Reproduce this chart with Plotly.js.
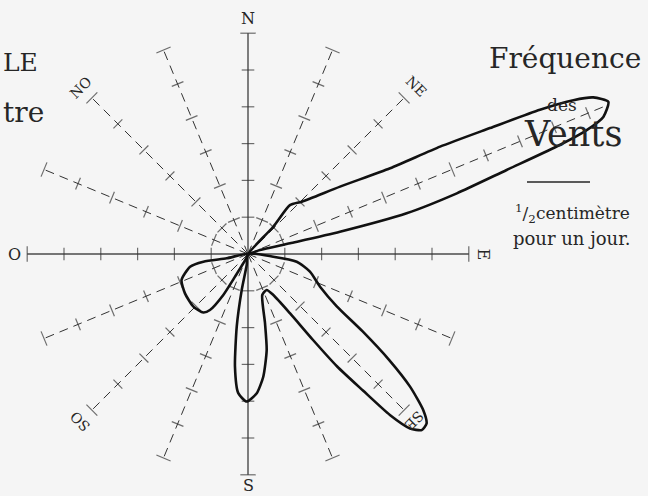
<!DOCTYPE html>
<html><head><meta charset="utf-8">
<script src="https://cdn.plot.ly/plotly-3.0.1.min.js"></script>
<style>html,body{margin:0;padding:0;background:#f5f5f5}</style>
</head><body><div id="chart" style="width:648px;height:496px"></div>
<script>
// 16 wind directions (French compass), bearing in degrees clockwise from north
const directions = ['N','NNE','NE','ENE','E','ESE','SE','SSE','S','SSO','SO','OSO','O','ONO','NO','NNO'];
const bearings   = [0,22.5,45,67.5,90,112.5,135,157.5,180,202.5,225,247.5,270,292.5,315,337.5];
// spoke lengths in scale units (ENE spoke runs through its long lobe)
const spokeLength = [6,6,6,10.6,6,6,6,6,6,6,6,6,6,6,6,6];
// labelled directions
const labelNames    = ['N','NE','E','SE','S','SO','O','NO'];
const labelBearings = [0,45,90,135,180,225,270,315];
const labelRadius   = [6.4,6.45,6.4,6.4,6.3,6.45,6.35,6.4];

// Lobe outlines: bearing (deg) and radius (scale units)
const eneBearing = [40,42.8,40.6,45.8,53.8,58.9,60.8,62.5,63.7,64.7,65.6,67.1,68.9,69.9,70.8,72.0,73.8,75.6,76.4,75.7,71.6,70];
const eneRadius  = [0,1.01,1.75,2.04,3.10,4.51,5.98,7.41,8.85,9.78,10.30,10.63,10.35,9.80,8.88,7.39,5.91,4.45,2.57,1.18,0.34,0];
const seSBearing = [95,96.1,99.0,105.9,114.4,120.5,124.0,126.9,129.3,131.7,133.5,135.4,137.1,138.6,139.9,141.6,142.9,144.7,148.3,152.6,160.8,166.2,169.0,172.9,176.4,180.5,184.0,186.6,188.8,189.9,186.7,185];
const seSRadius  = [0,0.69,1.34,1.75,2.15,2.80,3.75,4.80,5.69,6.38,6.69,6.72,6.47,5.83,4.85,3.90,2.93,1.97,1.31,1.10,1.18,1.94,2.66,3.36,3.79,4.01,3.79,3.08,2.0,0.99,0.30,0];
const swBearing  = [205,206.8,209.8,211.1,214.2,217.3,226.1,238.0,248.6,257.6,260.2,258.6,260];
const swRadius   = [0,0.28,0.71,1.30,1.84,2.0,2.06,2.02,1.94,1.61,1.23,0.59,0];

const rad = d => d*Math.PI/180;
const toX = (b,r) => r*Math.sin(rad(b));
const toY = (b,r) => r*Math.cos(rad(b));

const traces = [];
const ink = '#262626';

// spokes
const dashX=[],dashY=[],solX=[],solY=[];
directions.forEach((d,i)=>{
  const b=bearings[i], L=spokeLength[i];
  const solid = (b%90===0);
  const X = solid?solX:dashX, Y = solid?solY:dashY;
  X.push(0,toX(b,L),null); Y.push(0,toY(b,L),null);
});
traces.push({x:dashX,y:dashY,mode:'lines',line:{color:'#333',width:1,dash:'9px,6px'},hoverinfo:'skip'});
traces.push({x:solX,y:solY,mode:'lines',line:{color:'#4a4a4a',width:1.4},hoverinfo:'skip'});

// tick marks on the spokes
const tx=[],ty=[],ta=[],ts=[];
directions.forEach((d,i)=>{
  const b=bearings[i];
  for(let k=1;k<=Math.floor(spokeLength[i]);k++){
    tx.push(toX(b,k)); ty.push(toY(b,k)); ta.push(b); ts.push(k===6?11:9);
  }
});
traces.push({x:tx,y:ty,mode:'markers',marker:{symbol:'line-ew',size:ts,angle:ta,line:{color:'#333',width:1.2}},hoverinfo:'skip'});

// lobes
[[eneBearing,eneRadius],[seSBearing,seSRadius],[swBearing,swRadius]].forEach(([B,R])=>{
  traces.push({x:B.map((b,i)=>toX(b,R[i])),y:B.map((b,i)=>toY(b,R[i])),mode:'lines',
    line:{color:'#111',width:2.6,shape:'spline',smoothing:0.6},hoverinfo:'skip'});
});

const W=648,H=496,cx=248,cy=254,s=36.8;
const serif='DejaVu Serif';
const ann=[];
labelNames.forEach((n,i)=>{
  const b=labelBearings[i];
  let ang=(b===180||b===270)?0:(b>180?b-360:b);
  ann.push({x:toX(b,labelRadius[i]),y:toY(b,labelRadius[i]),xref:'x',yref:'y',text:n,showarrow:false,
    textangle:ang,font:{family:serif,size:(b%90===0)?16:14,color:ink},xanchor:'center',yanchor:'middle'});
});
const P=(px,py,text,size,anchor)=>({x:px/W,y:1-py/H,xref:'paper',yref:'paper',text:text,showarrow:false,
  font:{family:serif,size:size,color:ink},xanchor:anchor||'center',yanchor:'middle'});
ann.push(P(565,58,'Fréquence',28));
ann.push(P(562,105,'des',17));
ann.push(P(573,134,'Vents',35));
ann.push(P(572,213,'<sup>1</sup>/<sub>2</sub>centimètre',17));
ann.push(P(572,238,'pour un jour.',18));
ann.push(P(1,62,'LE',25,'left'));
ann.push(P(1,113,'tre',28,'left'));

const layout={width:W,height:H,margin:{l:0,r:0,t:0,b:0},paper_bgcolor:'#f5f5f5',plot_bgcolor:'rgba(0,0,0,0)',
  showlegend:false,
  xaxis:{range:[-cx/s,(W-cx)/s],visible:false,fixedrange:true},
  yaxis:{range:[-(H-cy)/s,cy/s],visible:false,fixedrange:true},
  annotations:ann,
  shapes:[{type:'line',xref:'paper',yref:'paper',x0:527/W,x1:590/W,y0:1-182/H,y1:1-182/H,line:{color:ink,width:1.3}}]
};
Plotly.newPlot('chart',traces,layout,{staticPlot:true});
</script></body></html>
